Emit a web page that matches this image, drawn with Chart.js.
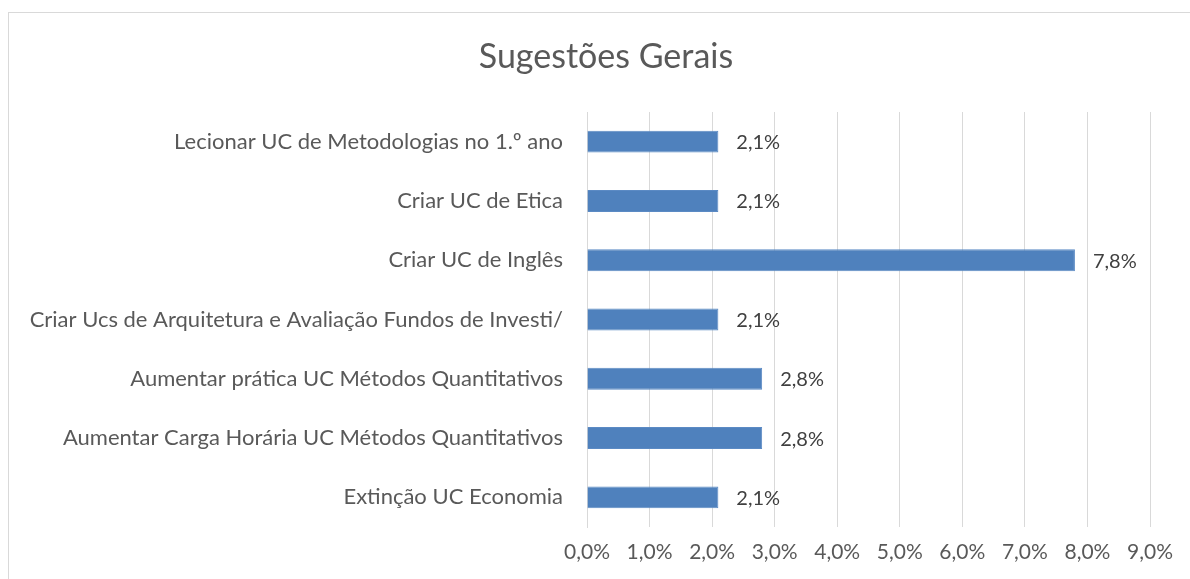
<!DOCTYPE html>
<html>
<head>
<meta charset="utf-8">
<script src="https://cdn.jsdelivr.net/npm/chart.js"></script>
<style>
  html, body { margin: 0; padding: 0; background: #fff; overflow: hidden; }
  #wrap { width: 1190px; height: 579px; }
</style>
</head>
<body>
<div id="wrap"><canvas id="sugestoes" width="1190" height="579"></canvas></div>
<script>
var titulo = "Sugestões Gerais";
var categorias = [
  "Lecionar UC de Metodologias no 1.º ano",
  "Criar UC de Etica",
  "Criar UC de Inglês",
  "Criar Ucs de Arquitetura e Avaliação Fundos de Investi/",
  "Aumentar prática UC Métodos Quantitativos",
  "Aumentar Carga Horária UC Métodos Quantitativos",
  "Extinção UC Economia"
];
var percentagens = [2.1, 2.1, 7.8, 2.1, 2.8, 2.8, 2.1];
var eixoMax = 9;

var fonte = "Lato, 'Noto Sans', sans-serif";
var corTexto = "#595959";

function formatPct(v) {
  return v.toFixed(1).replace(".", ",") + "%";
}

// moldura + título (o título do Excel fica centrado na moldura inteira)
const moldura = {
  id: "moldura",
  beforeDraw(chart) {
    const ctx = chart.ctx;
    ctx.save();
    ctx.fillStyle = "#fff";
    ctx.fillRect(0, 0, chart.width, chart.height);
    ctx.strokeStyle = "#d9d9d9";
    ctx.lineWidth = 1;
    ctx.strokeRect(8.5, 12.5, chart.width + 20, chart.height + 20);
    ctx.font = "34px " + fonte;
    ctx.fillStyle = corTexto;
    ctx.textAlign = "center";
    ctx.textBaseline = "middle";
    ctx.fillText(titulo, 606, 57);
    ctx.restore();
  }
};

// rótulos de valor ao lado das barras
const rotulos = {
  id: "rotulos",
  afterDatasetsDraw(chart) {
    const ctx = chart.ctx;
    const meta = chart.getDatasetMeta(0);
    ctx.save();
    ctx.font = "20px " + fonte;
    ctx.fillStyle = "#404040";
    ctx.textAlign = "left";
    ctx.textBaseline = "middle";
    meta.data.forEach((bar, i) => {
      ctx.fillText(formatPct(percentagens[i]), bar.x + 18, bar.y + 1);
    });
    ctx.restore();
  }
};

new Chart("sugestoes", {
  type: "bar",
  data: {
    labels: categorias,
    datasets: [{
      data: percentagens,
      backgroundColor: "#4f81bd",
      borderColor: "#5b8ac4",
      borderWidth: 1,
      categoryPercentage: 0.37,
      barPercentage: 1
    }]
  },
  options: {
    indexAxis: "y",
    responsive: false,
    animation: false,
    layout: { padding: { left: 8, right: 40, top: 112, bottom: 0 } },
    plugins: {
      legend: { display: false },
      tooltip: { enabled: false },
      title: { display: false }
    },
    scales: {
      x: {
        min: 0,
        max: eixoMax,
        ticks: {
          stepSize: 1,
          color: corTexto,
          padding: 13,
          font: { family: fonte, size: 21 },
          callback: v => formatPct(v)
        },
        grid: { color: "#d9d9d9", drawTicks: false },
        border: { display: false },
        afterFit(scale) { scale.height = 52; }
      },
      y: {
        ticks: {
          color: corTexto,
          padding: 24,
          font: { family: fonte, size: 22 }
        },
        grid: { display: false, drawTicks: false },
        border: { display: true, color: "#d9d9d9" },
        afterFit(scale) { scale.width = 579; }
      }
    }
  },
  plugins: [moldura, rotulos]
});
</script>
</body>
</html>
